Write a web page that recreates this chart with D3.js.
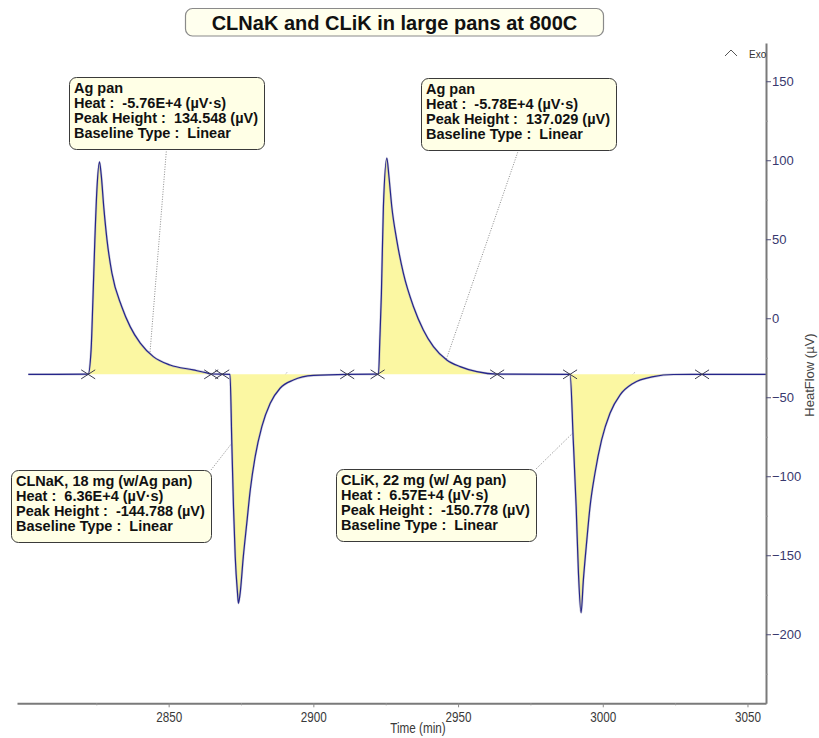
<!DOCTYPE html>
<html>
<head>
<meta charset="utf-8">
<script src="https://cdn.jsdelivr.net/npm/d3@7/dist/d3.min.js"></script>
<style>
  html, body { margin: 0; padding: 0; background: #ffffff; }
  svg { display: block; }
  text { font-family: "Liberation Sans", Arial, sans-serif; }
</style>
</head>
<body>
<svg id="chart" width="819" height="738"></svg>
<script>
// ---- data -------------------------------------------------------------
// DSC trace: time (min) and heat flow (µV)
const timeMin = [
  2801.5, 2822.2,
  2823.2, 2823.8, 2824.5, 2825.2, 2826.1, 2826.7, 2827.6, 2828.7, 2830.4, 2833.8,
  2836.7, 2840.2, 2844.7, 2850.5, 2858.5, 2863.2, 2864.7,
  2871.2,
  2871.8, 2872.4, 2873.0, 2873.8, 2874.1, 2874.7, 2875.8, 2877.0, 2878.2, 2879.9,
  2882.2, 2885.1, 2888.5, 2893.1, 2900.0, 2911.7,
  2922.5,
  2923.0, 2923.5, 2924.2, 2925.4, 2926.1, 2927.1, 2928.8, 2931.1, 2934.6, 2938.0,
  2941.5, 2946.1, 2950.7, 2956.5, 2963.5,
  2988.7,
  2989.8, 2990.8, 2991.6, 2992.5, 2993.3, 2994.5, 2995.6, 2997.3, 2999.6, 3002.5,
  3006.0, 3010.6, 3017.5, 3024.4, 3034.3,
  3056.4
];
const heatFlow = [
  -35.5, -35.4,
  -20.0, 10.0, 49.6, 81.2, 98.95, 90.7, 70.0, 49.6, 28.5, 7.3,
  -5.3, -15.8, -24.3, -29.6, -32.7, -34.6, -35.3,
  -35.5,
  -77.0, -119.2, -150.9, -174.1, -180.39, -174.1, -150.9, -129.7, -108.7, -87.6,
  -68.6, -53.8, -44.3, -39.1, -36.2, -35.5,
  -35.4,
  -12.0, 15.0, 70.6, 101.43, 90.0, 70.6, 49.6, 28.5, 7.3, -7.4,
  -18.0, -26.4, -30.6, -33.8, -35.4,
  -35.5,
  -77.0, -119.2, -161.4, -186.38, -165.6, -140.3, -119.2, -98.1, -77.0, -60.1,
  -48.5, -41.1, -37.0, -35.6, -35.5,
  -35.5
];

// integrated peaks (linear baseline between start and end)
const baselineLevel = -35.5;
const peakStart = [2822.2, 2868.5, 2922.2, 2988.7];
const peakEnd   = [2864.7, 2911.7, 2963.5, 3034.3];
const peakName  = ["Ag pan", "CLNaK, 18 mg (w/Ag pan)", "Ag pan", "CLiK, 22 mg (w/ Ag pan)"];
const peakHeat  = ["-5.76E+4", "6.36E+4", "-5.78E+4", "6.57E+4"];
const peakHeightVal = ["134.548", "-144.788", "137.029", "-150.778"];
const baselineType  = ["Linear", "Linear", "Linear", "Linear"];
const leaderTime = [2843.0, 2890.9, 2944.4, 3011.1];

// axis ticks
const xMajorTicks = [2850, 2900, 2950, 3000, 3050];
const xMinorTicks = [2825, 2875, 2925, 2975, 3025];
const yMajorTicks = [150, 100, 50, 0, -50, -100, -150, -200];
const yMinorTicks = [175, 125, 75, 25, -25, -75, -125, -175, -225];

const titleText = "CLNaK and CLiK in large pans at 800C";

// ---- layout -----------------------------------------------------------
const svg = d3.select("#chart");
const plot = { left: 17, right: 766, top: 43, bottom: 703.3 };

const x = d3.scaleLinear().domain([2797.6, 3056.4]).range([plot.left, plot.right]);
const y = d3.scaleLinear().domain([-243.7, 174.2]).range([plot.bottom, plot.top]);

const pts = timeMin.map((t, i) => ({ t, v: heatFlow[i] }));

// ---- title ------------------------------------------------------------
svg.append("rect")
  .attr("x", 185.5).attr("y", 8.5).attr("width", 418).attr("height", 27.5)
  .attr("rx", 7).attr("ry", 7)
  .attr("fill", "#ffffee").attr("stroke", "#8a8a8a").attr("stroke-width", 1.2);
svg.append("text")
  .attr("x", 394.5).attr("y", 29.5)
  .attr("text-anchor", "middle")
  .attr("font-size", 20).attr("font-weight", "bold").attr("fill", "#111")
  .text(titleText);

// ---- peak areas -------------------------------------------------------
const area = d3.area()
  .x(d => x(d.t))
  .y0(y(baselineLevel))
  .y1(d => y(d.v))
  .curve(d3.curveMonotoneX);

peakStart.forEach((s, i) => {
  const seg = pts.filter(d => d.t >= s && d.t <= peakEnd[i]);
  if (seg[0].t > s) seg.unshift({ t: s, v: baselineLevel });
  svg.append("path")
    .datum(seg)
    .attr("d", area)
    .attr("fill", "#fbf7a2");
});

// ---- trace ------------------------------------------------------------
const line = d3.line().x(d => x(d.t)).y(d => y(d.v)).curve(d3.curveMonotoneX);
svg.append("path")
  .datum(pts)
  .attr("d", line)
  .attr("fill", "none")
  .attr("stroke", "#9a9ab8").attr("stroke-width", 2.4).attr("opacity", 0.45);
svg.append("path")
  .datum(pts)
  .attr("d", line)
  .attr("fill", "none")
  .attr("stroke", "#25258a").attr("stroke-width", 1.2);

// ---- baseline limit markers ---------------------------------------------
const limits = peakStart.concat(peakEnd);
const marks = svg.append("g").selectAll("g").data(limits).join("g")
  .attr("transform", d => `translate(${x(d)},${y(baselineLevel)})`);
marks.append("path")
  .attr("d", "M-7,-4.5L7,4.5M-7,4.5L7,-4.5")
  .attr("stroke", "#3c3c50").attr("stroke-width", 1).attr("fill", "none");

// ---- axes ---------------------------------------------------------------
const xAxisG = svg.append("g").attr("transform", `translate(0,${plot.bottom})`);
xAxisG.call(d3.axisBottom(x).tickValues(xMajorTicks).tickSize(4).tickSizeOuter(0).tickFormat(d3.format("d")));
xAxisG.select(".domain").attr("stroke", "#7a7a7a").attr("stroke-width", 2);
xAxisG.selectAll(".tick line").attr("stroke", "#8a8a8a");
xAxisG.selectAll(".tick text")
  .attr("font-family", "'Liberation Sans', Arial, sans-serif")
  .attr("font-size", 15).attr("fill", "#3a3a3a")
  .attr("y", 8)
  .attr("transform", "scale(0.78,1)");
const xMinorG = svg.append("g").attr("transform", `translate(0,${plot.bottom})`);
xMinorG.call(d3.axisBottom(x).tickValues(xMinorTicks).tickSize(2).tickSizeOuter(0).tickFormat(""));
xMinorG.select(".domain").remove();
xMinorG.selectAll(".tick line").attr("stroke", "#9a9a9a");

const yAxisG = svg.append("g").attr("transform", `translate(${plot.right},0)`);
yAxisG.call(d3.axisRight(y).tickValues(yMajorTicks).tickSize(5).tickPadding(1).tickSizeOuter(0).tickFormat(d3.format("d")));
yAxisG.select(".domain").attr("stroke", "#7a7a7a").attr("stroke-width", 2);
yAxisG.selectAll(".tick line").attr("stroke", "#50507a");
yAxisG.selectAll(".tick text")
  .attr("font-family", "'Liberation Sans', Arial, sans-serif")
  .attr("font-size", 13).attr("fill", "#38386e");
const yMinorG = svg.append("g").attr("transform", `translate(${plot.right},0)`);
yMinorG.call(d3.axisRight(y).tickValues(yMinorTicks.filter(v => y(v) > plot.top && y(v) < plot.bottom)).tickSize(2).tickSizeOuter(0).tickFormat(""));
yMinorG.select(".domain").remove();
yMinorG.selectAll(".tick line").attr("stroke", "#9a9a9a");

// axis titles
svg.append("g").attr("transform", "translate(418,733)")
  .append("text")
  .attr("text-anchor", "middle")
  .attr("transform", "scale(0.78,1)")
  .attr("font-size", 15).attr("fill", "#3a3a3a")
  .text("Time (min)");
svg.append("text")
  .attr("transform", "translate(814,375) rotate(-90)")
  .attr("text-anchor", "middle")
  .attr("font-size", 13).attr("fill", "#444")
  .text("HeatFlow (µV)");

// exotherm direction
svg.append("path")
  .attr("d", "M725,56L731,50L737,56")
  .attr("fill", "none").attr("stroke", "#555").attr("stroke-width", 1);
svg.append("text")
  .attr("x", 749).attr("y", 58)
  .attr("font-size", 10).attr("fill", "#333")
  .text("Exo");

// ---- peak annotations ---------------------------------------------------
// box placement: top-left corner, and where the leader line leaves the box
const boxLayout = [
  { x: 69,  y: 77,  ax: 0.5, side: "bottom" },
  { x: 11,  y: 470, ax: 1.0, side: "top" },
  { x: 421, y: 78,  ax: 0.5, side: "bottom" },
  { x: 336, y: 469, ax: 1.0, side: "top" }
];
const lineGap = 15.3;

peakName.forEach((name, i) => {
  const L = boxLayout[i];
  const lines = [
    name,
    `Heat :  ${peakHeat[i]} (µV·s)`,
    `Peak Height :  ${peakHeightVal[i]} (µV)`,
    `Baseline Type :  ${baselineType[i]}`
  ];
  const g = svg.append("g");
  const rect = g.append("rect")
    .attr("x", L.x + 0.5).attr("y", L.y + 0.5)
    .attr("rx", 7).attr("ry", 7)
    .attr("fill", "#ffffe6").attr("stroke", "#3a3a3a").attr("stroke-width", 1);
  const texts = g.selectAll("text").data(lines).join("text")
    .attr("x", L.x + 5)
    .attr("y", (d, k) => L.y + 15.5 + k * lineGap)
    .attr("font-size", 14.5).attr("font-weight", "bold").attr("fill", "#111")
    .style("white-space", "pre")
    .text(d => d);
  let w = 0;
  texts.each(function () { w = Math.max(w, this.getComputedTextLength()); });
  const bw = Math.round(w + 11), bh = 72;
  rect.attr("width", bw).attr("height", bh);

  const x0 = L.x + L.ax * bw;
  const y0 = L.side === "bottom" ? L.y + bh : L.y;
  svg.insert("line", ":first-child")
    .attr("x1", x0).attr("y1", y0)
    .attr("x2", x(leaderTime[i])).attr("y2", y(baselineLevel) - 2)
    .attr("stroke", "#8c8c8c").attr("stroke-width", 1)
    .attr("stroke-dasharray", "1,1.5");
});
</script>
</body>
</html>
